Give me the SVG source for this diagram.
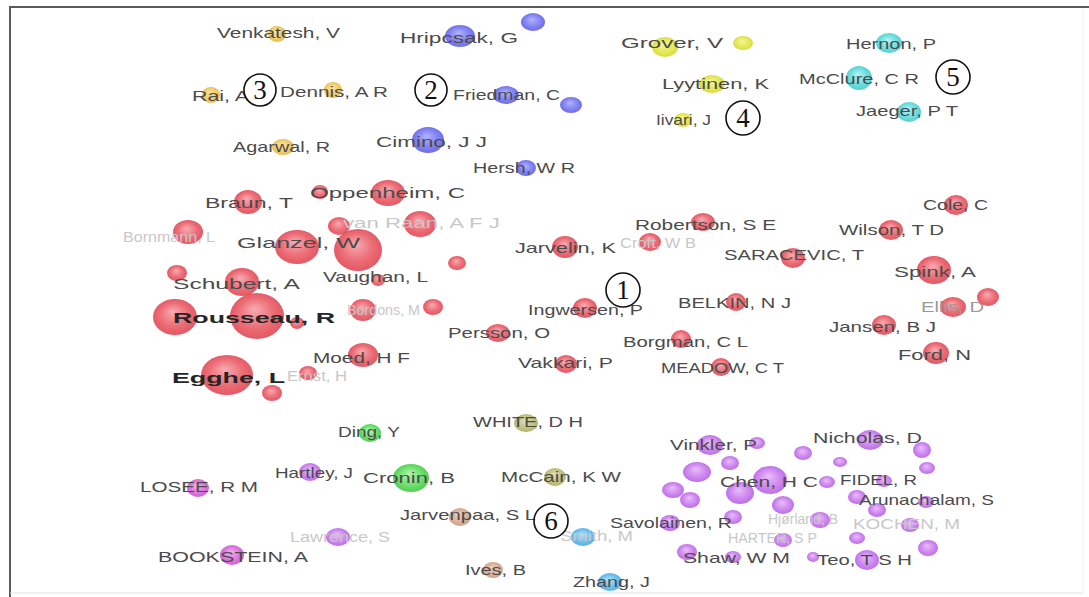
<svg xmlns="http://www.w3.org/2000/svg" width="1089" height="597" viewBox="0 0 1089 597">
<style>
.lb{font-family:"Liberation Sans",Arial,sans-serif;font-size:15px;fill:#4b4b4b}
.fa{fill:#c8c8c8}
.md{fill:#9a9a9a}
.bd{font-weight:bold;fill:#252525}
.num{font-family:"Liberation Serif","Times New Roman",serif;font-size:27px;fill:#111;text-anchor:middle}
.ring{fill:#fff;fill-opacity:0.6;stroke:#111;stroke-width:1.6}
.n{opacity:0.88;filter:url(#soft)}
.r{fill:url(#gRed)}.b{fill:url(#gBlue)}.o{fill:url(#gOrange)}.y{fill:url(#gYG)}.c{fill:url(#gCyan)}
.p{fill:url(#gPurple)}.g{fill:url(#gGreen)}.v{fill:url(#gOlive)}.w{fill:url(#gBrown)}.m{fill:url(#gMag)}.s{fill:url(#gSky)}
</style>
<defs>
<filter id="soft" x="-30%" y="-30%" width="160%" height="160%"><feGaussianBlur stdDeviation="0.6"/></filter>
<radialGradient id="gRed" cx="50%" cy="50%" r="55%" fx="45%" fy="35%"><stop offset="0" stop-color="#f7a0a8"/><stop offset="0.6" stop-color="#ea5964"/><stop offset="1" stop-color="#dc3d4a"/></radialGradient>
<radialGradient id="gBlue" cx="50%" cy="50%" r="55%" fx="45%" fy="35%"><stop offset="0" stop-color="#a8a8ff"/><stop offset="0.6" stop-color="#7272f2"/><stop offset="1" stop-color="#5656e2"/></radialGradient>
<radialGradient id="gOrange" cx="50%" cy="50%" r="55%" fx="45%" fy="35%"><stop offset="0" stop-color="#fbe0a0"/><stop offset="0.6" stop-color="#f2c75a"/><stop offset="1" stop-color="#e6b03a"/></radialGradient>
<radialGradient id="gYG" cx="50%" cy="50%" r="55%" fx="45%" fy="35%"><stop offset="0" stop-color="#f4f690"/><stop offset="0.6" stop-color="#e2e640"/><stop offset="1" stop-color="#cdd520"/></radialGradient>
<radialGradient id="gCyan" cx="50%" cy="50%" r="55%" fx="45%" fy="35%"><stop offset="0" stop-color="#a8f4f4"/><stop offset="0.6" stop-color="#5ddada"/><stop offset="1" stop-color="#38c6cc"/></radialGradient>
<radialGradient id="gPurple" cx="50%" cy="50%" r="55%" fx="45%" fy="35%"><stop offset="0" stop-color="#e8b6f8"/><stop offset="0.6" stop-color="#c878ee"/><stop offset="1" stop-color="#b055e2"/></radialGradient>
<radialGradient id="gGreen" cx="50%" cy="50%" r="55%" fx="45%" fy="35%"><stop offset="0" stop-color="#a8f5a8"/><stop offset="0.6" stop-color="#5cdc5c"/><stop offset="1" stop-color="#34c434"/></radialGradient>
<radialGradient id="gOlive" cx="50%" cy="50%" r="55%" fx="45%" fy="35%"><stop offset="0" stop-color="#dcdcaa"/><stop offset="0.6" stop-color="#bcbc74"/><stop offset="1" stop-color="#a6a658"/></radialGradient>
<radialGradient id="gBrown" cx="50%" cy="50%" r="55%" fx="45%" fy="35%"><stop offset="0" stop-color="#ecccb8"/><stop offset="0.6" stop-color="#d6a88c"/><stop offset="1" stop-color="#c69276"/></radialGradient>
<radialGradient id="gMag" cx="50%" cy="50%" r="55%" fx="45%" fy="35%"><stop offset="0" stop-color="#f0a8f0"/><stop offset="0.6" stop-color="#d866d8"/><stop offset="1" stop-color="#c846c8"/></radialGradient>
<radialGradient id="gSky" cx="50%" cy="50%" r="55%" fx="45%" fy="35%"><stop offset="0" stop-color="#a8e0f8"/><stop offset="0.6" stop-color="#5cb8ea"/><stop offset="1" stop-color="#3ea4e0"/></radialGradient>
</defs>
<rect x="0" y="0" width="1089" height="597" fill="#ffffff"/>
<g id="frame" fill="none">
<line x1="9" y1="7" x2="1089" y2="7" stroke="#5a5a5a" stroke-width="2"/>
<line x1="10" y1="6" x2="10" y2="597" stroke="#5a5a5a" stroke-width="2"/>
<line x1="10" y1="593" x2="1083" y2="593" stroke="#e2e2e2" stroke-width="1"/>
<line x1="1083" y1="8" x2="1083" y2="593" stroke="#f0f0f0" stroke-width="1"/>
</g>
<g id="connectors"/>

<!-- cluster 3 -->
<g id="n-venkatesh"><ellipse class="n o" cx="277" cy="34" rx="9" ry="8"/><text class="lb" x="217" y="38" textLength="123" lengthAdjust="spacingAndGlyphs">Venkatesh, V</text></g>
<g id="n-rai"><ellipse class="n o" cx="211" cy="95" rx="9" ry="8"/><text class="lb" x="192" y="101" textLength="57" lengthAdjust="spacingAndGlyphs">Rai, A</text></g>
<g id="n-dennis"><ellipse class="n o" cx="333" cy="90" rx="9" ry="8"/><text class="lb" x="280" y="97" textLength="108" lengthAdjust="spacingAndGlyphs">Dennis, A R</text></g>
<g id="n-agarwal"><ellipse class="n o" cx="283" cy="147" rx="11" ry="8"/><text class="lb" x="233" y="152" textLength="97" lengthAdjust="spacingAndGlyphs">Agarwal, R</text></g>

<!-- cluster 2 -->
<g id="n-hripcsak"><ellipse class="n b" cx="460" cy="36" rx="15" ry="11"/><text class="lb" x="400" y="43" font-size="16" textLength="118" lengthAdjust="spacingAndGlyphs">Hripcsak, G</text></g>
<g id="n-blue1"><ellipse class="n b" cx="533" cy="22" rx="12" ry="9"/></g>
<g id="n-friedman"><ellipse class="n b" cx="506" cy="95" rx="13" ry="9"/><text class="lb" x="453" y="100" textLength="107" lengthAdjust="spacingAndGlyphs">Friedman, C</text></g>
<g id="n-blue2"><ellipse class="n b" cx="571" cy="105" rx="11" ry="8"/></g>
<g id="n-cimino"><ellipse class="n b" cx="428" cy="140" rx="16" ry="13"/><text class="lb" x="376" y="147" font-size="18" textLength="111" lengthAdjust="spacingAndGlyphs">Cimino, J J</text></g>
<g id="n-hersh"><ellipse class="n b" cx="526" cy="168" rx="10" ry="8"/><text class="lb" x="473" y="173" textLength="102" lengthAdjust="spacingAndGlyphs">Hersh, W R</text></g>

<!-- cluster 4 -->
<g id="n-grover"><ellipse class="n y" cx="665" cy="47" rx="13" ry="10"/><text class="lb" x="621" y="48" font-size="16" textLength="102" lengthAdjust="spacingAndGlyphs">Grover, V</text></g>
<g id="n-yg1"><ellipse class="n y" cx="743" cy="43" rx="10" ry="7"/></g>
<g id="n-lyytinen"><ellipse class="n y" cx="712" cy="84" rx="13" ry="9"/><text class="lb" x="662" y="89" font-size="16" textLength="107" lengthAdjust="spacingAndGlyphs">Lyytinen, K</text></g>
<g id="n-iivari"><ellipse class="n y" cx="683" cy="120" rx="9" ry="7"/><text class="lb" x="656" y="125" font-size="12" textLength="55" lengthAdjust="spacingAndGlyphs">Iivari, J</text></g>

<!-- cluster 5 -->
<g id="n-hernon"><ellipse class="n c" cx="889" cy="43" rx="13" ry="10"/><text class="lb" x="846" y="49" textLength="90" lengthAdjust="spacingAndGlyphs">Hernon, P</text></g>
<g id="n-mcclure"><ellipse class="n c" cx="859" cy="78" rx="13" ry="12"/><text class="lb" x="799" y="84" font-size="16" textLength="120" lengthAdjust="spacingAndGlyphs">McClure, C R</text></g>
<g id="n-jaeger"><ellipse class="n c" cx="909" cy="112" rx="12" ry="10"/><text class="lb" x="856" y="116" textLength="102" lengthAdjust="spacingAndGlyphs">Jaeger, P T</text></g>

<!-- cluster 1 (red) -->
<g id="n-braun"><ellipse class="n r" cx="248" cy="202" rx="14" ry="12"/><text class="lb" x="205" y="208" font-size="17" textLength="88" lengthAdjust="spacingAndGlyphs">Braun, T</text></g>
<g id="n-oppenheim"><ellipse class="n r" cx="320" cy="192" rx="8" ry="7"/><ellipse class="n r" cx="388" cy="193" rx="17" ry="13"/><text class="lb" x="310" y="198" font-size="18" textLength="155" lengthAdjust="spacingAndGlyphs">Oppenheim, C</text></g>
<g id="n-bornmann"><ellipse class="n r" cx="188" cy="232" rx="15" ry="12"/><text class="lb fa" x="123" y="242" textLength="92" lengthAdjust="spacingAndGlyphs">Bornmann, L</text></g>
<g id="n-glanzel"><ellipse class="n r" cx="297" cy="247" rx="22" ry="17"/><ellipse class="n r" cx="358" cy="250" rx="24" ry="21"/><text class="lb" x="237" y="248" font-size="18" textLength="123" lengthAdjust="spacingAndGlyphs">Glanzel, W</text></g>
<g id="n-vanraan"><ellipse class="n r" cx="339" cy="226" rx="11" ry="9"/><ellipse class="n r" cx="420" cy="224" rx="16" ry="13"/><text class="lb fa" x="343" y="228" textLength="157" lengthAdjust="spacingAndGlyphs">van Raan, A F J</text></g>
<g id="n-schubert"><ellipse class="n r" cx="177" cy="273" rx="10" ry="8"/><ellipse class="n r" cx="242" cy="282" rx="17" ry="14"/><text class="lb" x="173" y="289" font-size="19" textLength="127" lengthAdjust="spacingAndGlyphs">Schubert, A</text></g>
<g id="n-vaughan"><ellipse class="n r" cx="378" cy="280" rx="7" ry="6"/><text class="lb" x="323" y="282" textLength="105" lengthAdjust="spacingAndGlyphs">Vaughan, L</text></g>
<g id="n-red1"><ellipse class="n r" cx="457" cy="263" rx="9" ry="7"/></g>
<g id="n-rousseau"><ellipse class="n r" cx="175" cy="317" rx="22" ry="18"/><ellipse class="n r" cx="257" cy="316" rx="27" ry="23"/><ellipse class="n r" cx="297" cy="323" rx="7" ry="6"/><text class="lb bd" x="173" y="323" font-size="21" textLength="162" lengthAdjust="spacingAndGlyphs">Rousseau, R</text></g>
<g id="n-bordons"><ellipse class="n r" cx="363" cy="310" rx="13" ry="11"/><text class="lb fa" x="347" y="315" textLength="73" lengthAdjust="spacingAndGlyphs">Bordons, M</text></g>
<g id="n-red2"><ellipse class="n r" cx="433" cy="307" rx="10" ry="8"/></g>
<g id="n-moed"><ellipse class="n r" cx="363" cy="355" rx="15" ry="12"/><text class="lb" x="313" y="363" font-size="16" textLength="97" lengthAdjust="spacingAndGlyphs">Moed, H F</text></g>
<g id="n-egghe"><ellipse class="n r" cx="227" cy="375" rx="26" ry="20"/><text class="lb bd" x="172" y="383" font-size="20" textLength="113" lengthAdjust="spacingAndGlyphs">Egghe, L</text></g>
<g id="n-red3"><ellipse class="n r" cx="272" cy="393" rx="10" ry="8"/></g>
<g id="n-ernst"><ellipse class="n r" cx="308" cy="373" rx="9" ry="7"/><text class="lb fa" x="287" y="381" textLength="60" lengthAdjust="spacingAndGlyphs">Ernst, H</text></g>
<g id="n-persson"><ellipse class="n r" cx="498" cy="333" rx="12" ry="9"/><text class="lb" x="448" y="338" textLength="102" lengthAdjust="spacingAndGlyphs">Persson, O</text></g>
<g id="n-jarvelin"><ellipse class="n r" cx="565" cy="247" rx="13" ry="11"/><text class="lb" x="515" y="253" font-size="16" textLength="101" lengthAdjust="spacingAndGlyphs">Jarvelin, K</text></g>
<g id="n-croft"><ellipse class="n r" cx="650" cy="242" rx="11" ry="9"/><text class="lb fa" x="620" y="248" textLength="76" lengthAdjust="spacingAndGlyphs">Croft, W B</text></g>
<g id="n-robertson"><ellipse class="n r" cx="703" cy="222" rx="12" ry="9"/><text class="lb" x="635" y="230" textLength="141" lengthAdjust="spacingAndGlyphs">Robertson, S E</text></g>
<g id="n-ingwersen"><ellipse class="n r" cx="585" cy="308" rx="12" ry="10"/><text class="lb" x="528" y="315" textLength="115" lengthAdjust="spacingAndGlyphs">Ingwersen, P</text></g>
<g id="n-belkin"><ellipse class="n r" cx="736" cy="302" rx="10" ry="9"/><text class="lb" x="678" y="308" textLength="113" lengthAdjust="spacingAndGlyphs">BELKIN, N J</text></g>
<g id="n-borgman"><ellipse class="n r" cx="681" cy="339" rx="10" ry="9"/><text class="lb" x="623" y="347" textLength="125" lengthAdjust="spacingAndGlyphs">Borgman, C L</text></g>
<g id="n-vakkari"><ellipse class="n r" cx="566" cy="364" rx="11" ry="9"/><text class="lb" x="518" y="368" textLength="95" lengthAdjust="spacingAndGlyphs">Vakkari, P</text></g>
<g id="n-meadow"><ellipse class="n r" cx="721" cy="367" rx="10" ry="9"/><text class="lb" x="661" y="373" font-size="14" textLength="123" lengthAdjust="spacingAndGlyphs">MEADOW, C T</text></g>
<g id="n-saracevic"><ellipse class="n r" cx="793" cy="258" rx="12" ry="10"/><text class="lb" x="724" y="260" textLength="140" lengthAdjust="spacingAndGlyphs">SARACEVIC, T</text></g>
<g id="n-cole"><ellipse class="n r" cx="956" cy="205" rx="12" ry="10"/><text class="lb" x="923" y="210" textLength="65" lengthAdjust="spacingAndGlyphs">Cole, C</text></g>
<g id="n-wilson"><ellipse class="n r" cx="891" cy="230" rx="12" ry="10"/><text class="lb" x="839" y="235" textLength="105" lengthAdjust="spacingAndGlyphs">Wilson, T D</text></g>
<g id="n-spink"><ellipse class="n r" cx="934" cy="270" rx="17" ry="14"/><text class="lb" x="894" y="277" font-size="17" textLength="82" lengthAdjust="spacingAndGlyphs">Spink, A</text></g>
<g id="n-ellis"><ellipse class="n r" cx="953" cy="307" rx="13" ry="10"/><ellipse class="n r" cx="988" cy="297" rx="11" ry="9"/><text class="lb md" x="921" y="312" textLength="63" lengthAdjust="spacingAndGlyphs">Ellis, D</text></g>
<g id="n-jansen"><ellipse class="n r" cx="884" cy="325" rx="12" ry="10"/><text class="lb" x="829" y="332" textLength="107" lengthAdjust="spacingAndGlyphs">Jansen, B J</text></g>
<g id="n-ford"><ellipse class="n r" cx="936" cy="353" rx="13" ry="11"/><text class="lb" x="898" y="360" font-size="16" textLength="73" lengthAdjust="spacingAndGlyphs">Ford, N</text></g>

<!-- cluster 6 and others -->
<g id="n-ding"><ellipse class="n g" cx="370" cy="433" rx="11" ry="9"/><text class="lb" x="338" y="437" textLength="62" lengthAdjust="spacingAndGlyphs">Ding, Y</text></g>
<g id="n-white"><ellipse class="n v" cx="526" cy="423" rx="12" ry="9"/><text class="lb" x="473" y="427" textLength="110" lengthAdjust="spacingAndGlyphs">WHITE, D H</text></g>
<g id="n-hartley"><ellipse class="n p" cx="310" cy="472" rx="11" ry="9"/><text class="lb" x="275" y="478" textLength="78" lengthAdjust="spacingAndGlyphs">Hartley, J</text></g>
<g id="n-losee"><ellipse class="n m" cx="198" cy="488" rx="11" ry="9"/><text class="lb" x="140" y="492" textLength="118" lengthAdjust="spacingAndGlyphs">LOSEE, R M</text></g>
<g id="n-cronin"><ellipse class="n g" cx="411" cy="478" rx="18" ry="14"/><text class="lb" x="363" y="483" font-size="17" textLength="92" lengthAdjust="spacingAndGlyphs">Cronin, B</text></g>
<g id="n-mccain"><ellipse class="n v" cx="555" cy="477" rx="11" ry="9"/><text class="lb" x="501" y="482" textLength="120" lengthAdjust="spacingAndGlyphs">McCain, K W</text></g>
<g id="n-jarvenpaa"><ellipse class="n w" cx="460" cy="517" rx="11" ry="9"/><text class="lb" x="400" y="520" textLength="136" lengthAdjust="spacingAndGlyphs">Jarvenpaa, S L</text></g>
<g id="n-lawrence"><ellipse class="n p" cx="338" cy="537" rx="12" ry="9"/><text class="lb fa" x="290" y="542" textLength="100" lengthAdjust="spacingAndGlyphs">Lawrence, S</text></g>
<g id="n-smith"><ellipse class="n s" cx="583" cy="537" rx="12" ry="9"/><text class="lb fa" x="560" y="541" textLength="73" lengthAdjust="spacingAndGlyphs">Smith, M</text></g>
<g id="n-bookstein"><ellipse class="n m" cx="232" cy="555" rx="12" ry="10"/><text class="lb" x="158" y="562" textLength="150" lengthAdjust="spacingAndGlyphs">BOOKSTEIN, A</text></g>
<g id="n-ives"><ellipse class="n w" cx="493" cy="570" rx="10" ry="8"/><text class="lb" x="465" y="575" textLength="61" lengthAdjust="spacingAndGlyphs">Ives, B</text></g>
<g id="n-zhang"><ellipse class="n s" cx="610" cy="582" rx="12" ry="9"/><text class="lb" x="573" y="587" textLength="77" lengthAdjust="spacingAndGlyphs">Zhang, J</text></g>

<!-- purple cluster -->
<g id="n-purple-misc">
<ellipse class="n p" cx="803" cy="453" rx="9" ry="7"/><ellipse class="n p" cx="840" cy="462" rx="7" ry="5"/>
<ellipse class="n p" cx="922" cy="450" rx="9" ry="8"/><ellipse class="n p" cx="927" cy="468" rx="8" ry="6"/>
<ellipse class="n p" cx="730" cy="463" rx="9" ry="7"/><ellipse class="n p" cx="697" cy="472" rx="14" ry="10"/>
<ellipse class="n p" cx="673" cy="490" rx="11" ry="8"/><ellipse class="n p" cx="690" cy="500" rx="10" ry="8"/>
<ellipse class="n p" cx="740" cy="493" rx="14" ry="11"/><ellipse class="n p" cx="783" cy="505" rx="11" ry="9"/>
<ellipse class="n p" cx="827" cy="482" rx="8" ry="6"/><ellipse class="n p" cx="877" cy="510" rx="9" ry="7"/>
<ellipse class="n p" cx="857" cy="538" rx="8" ry="6"/><ellipse class="n p" cx="733" cy="517" rx="9" ry="7"/>
<ellipse class="n p" cx="733" cy="557" rx="8" ry="6"/><ellipse class="n p" cx="813" cy="557" rx="6" ry="5"/>
<ellipse class="n p" cx="928" cy="548" rx="10" ry="8"/>
</g>
<g id="n-vinkler"><ellipse class="n p" cx="710" cy="445" rx="13" ry="10"/><ellipse class="n p" cx="757" cy="443" rx="8" ry="6"/><text class="lb" x="670" y="450" textLength="87" lengthAdjust="spacingAndGlyphs">Vinkler, P</text></g>
<g id="n-nicholas"><ellipse class="n p" cx="870" cy="440" rx="13" ry="10"/><text class="lb" x="813" y="443" font-size="16" textLength="109" lengthAdjust="spacingAndGlyphs">Nicholas, D</text></g>
<g id="n-chen"><ellipse class="n p" cx="770" cy="480" rx="17" ry="14"/><text class="lb" x="720" y="487" font-size="17" textLength="98" lengthAdjust="spacingAndGlyphs">Chen, H C</text></g>
<g id="n-fidel"><ellipse class="n p" cx="884" cy="481" rx="8" ry="6"/><text class="lb" x="840" y="485" textLength="77" lengthAdjust="spacingAndGlyphs">FIDEL, R</text></g>
<g id="n-arunachalam"><ellipse class="n p" cx="857" cy="497" rx="9" ry="7"/><ellipse class="n p" cx="926" cy="502" rx="8" ry="6"/><text class="lb" x="859" y="505" textLength="135" lengthAdjust="spacingAndGlyphs">Arunachalam, S</text></g>
<g id="n-savolainen"><ellipse class="n p" cx="670" cy="523" rx="10" ry="8"/><text class="lb" x="610" y="528" textLength="122" lengthAdjust="spacingAndGlyphs">Savolainen, R</text></g>
<g id="n-hjorland"><ellipse class="n p" cx="820" cy="520" rx="10" ry="8"/><text class="lb fa" x="768" y="524" textLength="70" lengthAdjust="spacingAndGlyphs">Hjørland, B</text></g>
<g id="n-kochen"><ellipse class="n p" cx="910" cy="525" rx="9" ry="7"/><text class="lb fa" x="853" y="529" textLength="107" lengthAdjust="spacingAndGlyphs">KOCHEN, M</text></g>
<g id="n-harter"><ellipse class="n p" cx="783" cy="540" rx="9" ry="7"/><text class="lb fa" x="728" y="543" textLength="89" lengthAdjust="spacingAndGlyphs">HARTER, S P</text></g>
<g id="n-shaw"><ellipse class="n p" cx="687" cy="552" rx="10" ry="8"/><text class="lb" x="683" y="563" textLength="107" lengthAdjust="spacingAndGlyphs">Shaw, W M</text></g>
<g id="n-teo"><ellipse class="n p" cx="867" cy="560" rx="12" ry="10"/><text class="lb" x="817" y="565" textLength="95" lengthAdjust="spacingAndGlyphs">Teo, T S H</text></g>

<!-- cluster numbers -->
<g id="mark-1"><circle class="ring" cx="623" cy="290" r="17"/><text class="num" x="623" y="299">1</text></g>
<g id="mark-2"><circle class="ring" cx="431" cy="90" r="16"/><text class="num" x="431" y="99">2</text></g>
<g id="mark-3"><circle class="ring" cx="260" cy="90" r="16"/><text class="num" x="260" y="99">3</text></g>
<g id="mark-4"><circle class="ring" cx="743" cy="118" r="17"/><text class="num" x="743" y="127">4</text></g>
<g id="mark-5"><circle class="ring" cx="953" cy="77" r="17"/><text class="num" x="953" y="86">5</text></g>
<g id="mark-6"><circle class="ring" cx="551" cy="521" r="17"/><text class="num" x="551" y="530">6</text></g>
</svg>
